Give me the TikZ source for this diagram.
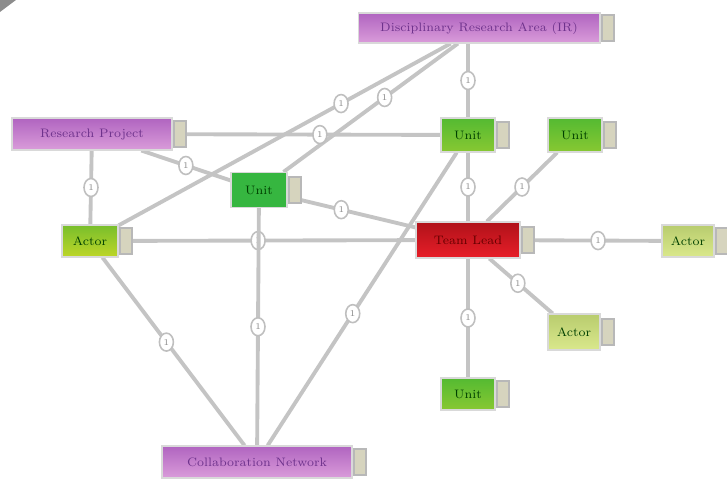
\documentclass[tikz,border=0pt]{standalone}
\usetikzlibrary{positioning}
\usetikzlibrary{backgrounds}
\usetikzlibrary{shapes.geometric}

\definecolor{purpleTop}{RGB}{176,100,192}
\definecolor{purpleBot}{RGB}{218,156,218}
\definecolor{purpleTxt}{RGB}{110,50,140}
\definecolor{redTop}{RGB}{176,18,26}
\definecolor{redBot}{RGB}{232,30,40}
\definecolor{greenMid}{RGB}{54,182,64}
\definecolor{greenTop}{RGB}{84,186,50}
\definecolor{greenBot}{RGB}{136,200,50}
\definecolor{limeTop}{RGB}{120,190,44}
\definecolor{limeBot}{RGB}{190,214,40}
\definecolor{paleTop}{RGB}{184,204,110}
\definecolor{paleBot}{RGB}{218,232,140}
\definecolor{edgeGray}{RGB}{196,196,196}
\definecolor{tagFill}{RGB}{214,212,190}

\tikzstyle{Box}=[rectangle,inner sep=1pt,font=\scriptsize,draw=black!15,line width=.6pt]
\tikzstyle{Concept}=[Box,top color=purpleTop,bottom color=purpleBot,text=purpleTxt]
\tikzstyle{Hub}=[Box,top color=redTop,bottom color=redBot,text=red!40!black]
\tikzstyle{Leaf}=[Box,top color=greenTop,bottom color=greenBot,text=green!25!black]
\tikzstyle{Tag}=[rectangle,draw=black!28,fill=tagFill,line width=1.2pt,minimum width=.24cm,minimum height=.52cm,inner sep=0pt]
\tikzstyle{Link}=[draw=edgeGray,line width=2.2pt]
\tikzstyle{Weight}=[ellipse,draw=black!25,fill=white,line width=.9pt,inner sep=0pt,minimum width=.28cm,minimum height=.36cm,font=\tiny,text=black!45]

\begin{document}
\begin{tikzpicture}[x=0.02cm,y=-0.02cm]

  \useasboundingbox (0,0) rectangle (727,482);

  % Corner
  \fill[black!45] (0,0)--(16,0)--(0,12)--cycle;

  % Concepts
  \node[Concept,minimum width=4.84cm,minimum height=.6cm] (topP) at (479,28) {Disciplinary Research Area (IR)};
  \node[Concept,minimum width=3.2cm,minimum height=.64cm] (leftP) at (92,134) {Research Project};
  \node[Concept,minimum width=3.8cm,minimum height=.64cm] (botP) at (257,462) {Collaboration Network};

  % Hub
  \node[Hub,minimum width=2.08cm,minimum height=.72cm] (hub) at (468,240) {Team Lead};

  % Leaves
  \node[Leaf,top color=limeTop,bottom color=limeBot,minimum width=1.12cm,minimum height=.64cm] (lime) at (90,241) {Actor};
  \node[Leaf,top color=greenMid,bottom color=greenMid,minimum width=1.12cm,minimum height=.7cm] (mid) at (259,190) {Unit};
  \node[Leaf,minimum width=1.08cm,minimum height=.68cm] (top) at (468,135) {Unit};
  \node[Leaf,minimum width=1.08cm,minimum height=.68cm] (topR) at (575,135) {Unit};
  \node[Leaf,minimum width=1.08cm,minimum height=.64cm] (bot) at (468,394) {Unit};
  \node[Leaf,top color=paleTop,bottom color=paleBot,minimum width=1.04cm,minimum height=.64cm] (right) at (688,241) {Actor};
  \node[Leaf,top color=paleTop,bottom color=paleBot,minimum width=1.04cm,minimum height=.72cm] (low) at (574,332) {Actor};

  % Tags
  \foreach \n in {topP,leftP,botP,hub,lime,mid,top,topR,bot,right,low}
    \node[Tag,right=0pt of \n] (\n T) {};

  % Links
  \begin{scope}[on background layer]
    \draw[Link] (top) -- (top |- topP.south) node[Weight,pos=.5]{1};
    \draw[Link] (topP) -- (lime) node[Weight,pos=.33]{1};
    \draw[Link] (topP) -- (mid) node[Weight,pos=.42]{1};
    \draw[Link] (leftP) -- (top) node[Weight,pos=.55]{1};
    \draw[Link] (leftP) -- (mid) node[Weight,pos=.5]{1};
    \draw[Link] (leftP) -- (lime) node[Weight,pos=.5]{1};
    \draw[Link] (lime) -- (hub) node[Weight,pos=.47]{1};
    \draw[Link] (mid) -- (botP) node[Weight,pos=.5]{1};
    \draw[Link] (mid) -- (hub) node[Weight,pos=.42]{1};
    \draw[Link] (lime) -- (botP) node[Weight,pos=.45]{1};
    \draw[Link] (top) -- (botP) node[Weight,pos=.55]{1};
    \draw[Link] (hub) -- (top) node[Weight,pos=.5]{1};
    \draw[Link] (hub) -- (topR) node[Weight,pos=.5]{1};
    \draw[Link] (hub) -- (right) node[Weight,pos=.55]{1};
    \draw[Link] (hub) -- (low) node[Weight,pos=.45]{1};
    \draw[Link] (hub) -- (bot) node[Weight,pos=.5]{1};
  \end{scope}

\end{tikzpicture}
\end{document}
